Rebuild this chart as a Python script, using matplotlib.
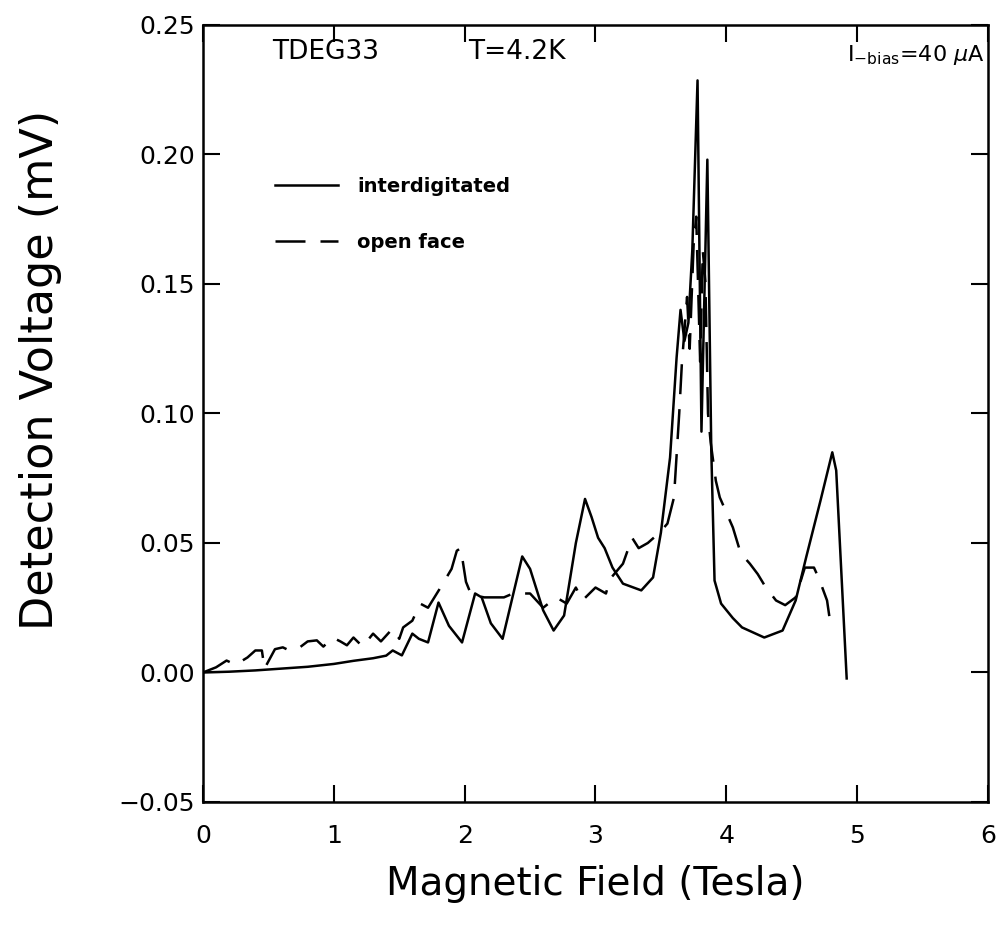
import matplotlib
matplotlib.use("Agg")
from matplotlib import pyplot as plt

# interdigitated (solid line)
b_inter = [0.00, 0.20, 0.40, 0.60, 0.80, 1.00, 1.15, 1.30, 1.40, 1.45, 1.52, 1.60, 1.65,
           1.72, 1.80, 1.88, 1.98, 2.08, 2.13, 2.20, 2.29, 2.37, 2.44, 2.50, 2.60, 2.68,
           2.76, 2.85, 2.92, 2.97, 3.02, 3.07, 3.13, 3.21, 3.35, 3.44, 3.50, 3.57, 3.62,
           3.65, 3.68, 3.71, 3.74, 3.78, 3.81, 3.855, 3.885, 3.91, 3.96, 4.05, 4.12,
           4.29, 4.43, 4.53, 4.61, 4.72, 4.81, 4.84, 4.92]
v_inter = [0.000, 0.0003, 0.0008, 0.0015, 0.0022, 0.0033, 0.0045, 0.0055, 0.0065, 0.0085,
           0.0066, 0.0150, 0.0130, 0.0116, 0.0270, 0.0180, 0.0116, 0.0305, 0.0290, 0.0190,
           0.0130, 0.0300, 0.0448, 0.0400, 0.0240, 0.0162, 0.0220, 0.0500, 0.0670, 0.0600,
           0.0520, 0.0480, 0.0405, 0.0343, 0.0317, 0.0367, 0.0540, 0.0830, 0.1216, 0.1400,
           0.1280, 0.1350, 0.1630, 0.2286, 0.0930, 0.1980, 0.0860, 0.0355, 0.0266, 0.0210,
           0.0174, 0.0135, 0.0162, 0.0278, 0.0444, 0.0664, 0.0850, 0.0780, -0.0023]

# open face (dashed line)
b_open = [0.00, 0.10, 0.18, 0.25, 0.34, 0.40, 0.45, 0.47, 0.55, 0.61, 0.66, 0.74, 0.80,
          0.87, 0.92, 0.99, 1.05, 1.10, 1.15, 1.22, 1.30, 1.36, 1.45, 1.50, 1.53, 1.60,
          1.66, 1.72, 1.83, 1.90, 1.94, 1.97, 2.01, 2.05, 2.15, 2.30, 2.37, 2.50, 2.60,
          2.70, 2.78, 2.85, 2.90, 3.00, 3.08, 3.11, 3.21, 3.28, 3.33, 3.40, 3.49, 3.55,
          3.60, 3.64, 3.66, 3.68, 3.70, 3.72, 3.75, 3.77, 3.80, 3.82, 3.84, 3.86, 3.88,
          3.92, 3.95, 4.05, 4.11, 4.18, 4.24, 4.30, 4.38, 4.45, 4.53, 4.60, 4.67, 4.71,
          4.77, 4.79]
v_open = [0.000, 0.002, 0.0046, 0.0030, 0.0058, 0.0085, 0.0085, 0.0015, 0.0090, 0.0097,
          0.0085, 0.0097, 0.0120, 0.0124, 0.0100, 0.0135, 0.0120, 0.0105, 0.0135, 0.0100,
          0.0150, 0.0120, 0.0170, 0.0130, 0.0174, 0.0200, 0.0266, 0.0250, 0.0340, 0.0400,
          0.0470, 0.0480, 0.0350, 0.0300, 0.0290, 0.0290, 0.0305, 0.0305, 0.0250, 0.0290,
          0.0266, 0.0328, 0.0278, 0.0328, 0.0305, 0.0360, 0.0420, 0.0520, 0.0480, 0.0500,
          0.0540, 0.0575, 0.0676, 0.1000, 0.1190, 0.1320, 0.1450, 0.1250, 0.1650, 0.1760,
          0.1200, 0.1630, 0.1510, 0.1000, 0.0890, 0.0740, 0.0676, 0.0560, 0.0460, 0.0420,
          0.0380, 0.0330, 0.0278, 0.0260, 0.0290, 0.0405, 0.0405, 0.0360, 0.0278, 0.0208]

x_ticks = [0, 1, 2, 3, 4, 5, 6]
y_ticks = [-0.05, 0.00, 0.05, 0.10, 0.15, 0.20, 0.25]

fig = plt.figure(figsize=(10.02, 9.32), dpi=100)
ax = fig.add_axes([0.2026, 0.1395, 0.7834, 0.8337])

ax.plot(b_inter, v_inter, color="black", lw=1.8, label="interdigitated")
ax.plot(b_open, v_open, color="black", lw=1.8, dashes=(12, 6), label="open face")

ax.set_xlim(0, 6)
ax.set_ylim(-0.05, 0.25)
ax.set_xticks(x_ticks)
ax.set_yticks(y_ticks)
ax.set_xticklabels([str(t) for t in x_ticks])
ax.set_yticklabels(["\u22120.05" if t < 0 else "%.2f" % t for t in y_ticks])
ax.tick_params(direction="in", length=12, width=1.5, top=True, right=True,
               labelsize=18)
ax.tick_params(axis="x", pad=16)
ax.tick_params(axis="y", pad=6)
for s in ax.spines.values():
    s.set_linewidth(1.8)

ax.set_xlabel("Magnetic Field (Tesla)", fontsize=28, labelpad=12)
ax.set_ylabel("Detection Voltage (mV)", fontsize=32)
ax.yaxis.set_label_coords(-0.18, 0.556)

ax.text(0.088, 0.965, "TDEG33", transform=ax.transAxes, fontsize=19, va="center")
ax.text(0.338, 0.965, "T=4.2K", transform=ax.transAxes, fontsize=19, va="center")
ax.text(0.996, 0.962, r"$\mathregular{I_{-bias}}$=40 $\mu$A", transform=ax.transAxes,
        fontsize=16, va="center", ha="right")

ax.legend(loc="upper left", bbox_to_anchor=(0.07, 0.827), frameon=False,
          prop={"size": 14, "weight": "bold"}, handlelength=3.2, labelspacing=1.9,
          handletextpad=1.0)

plt.savefig("out.png", dpi=100)
